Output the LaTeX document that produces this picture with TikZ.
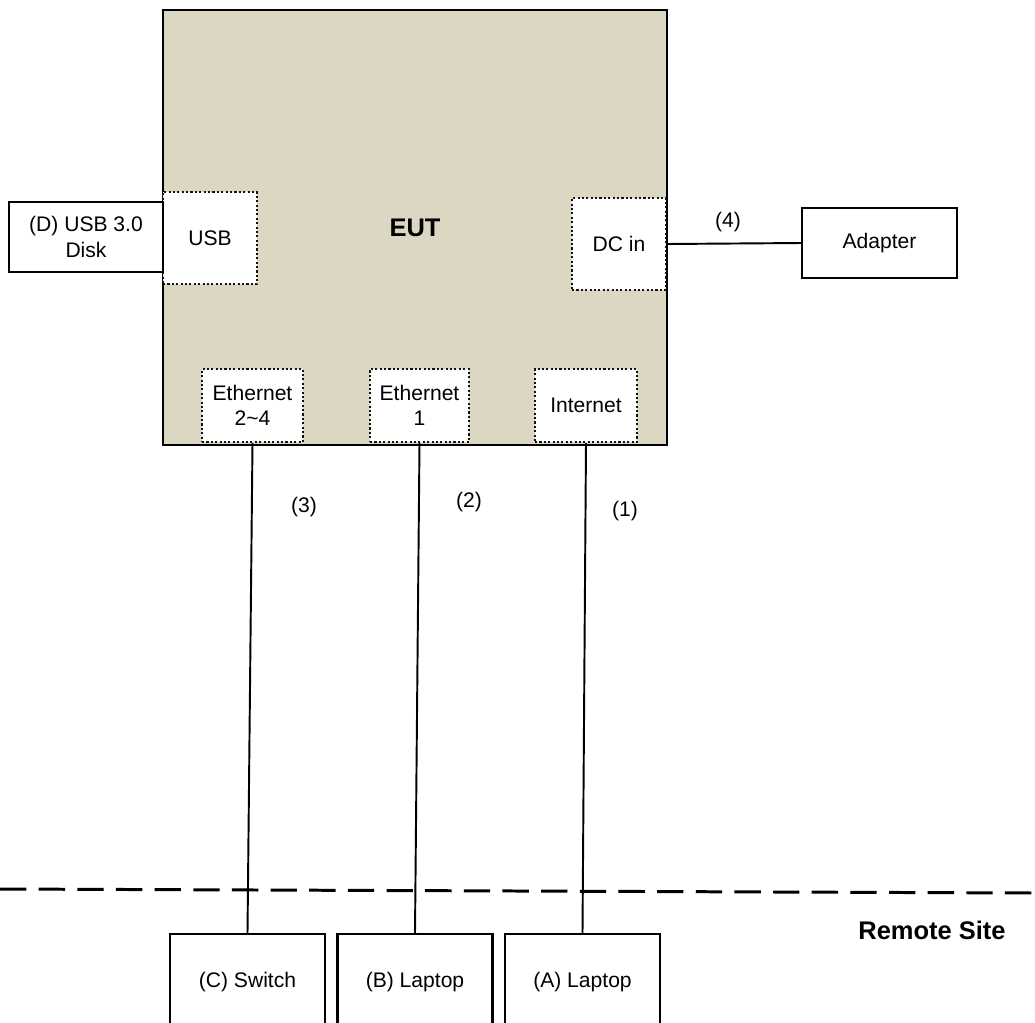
\documentclass[tikz,border=0pt]{standalone}
\usepackage{fontspec}
\setmainfont{Liberation Sans}
\usepackage{xcolor}
\usepackage{tikz}
\usetikzlibrary{positioning,calc}
\definecolor{euttan}{HTML}{DCD7C2}
\definecolor{portdot}{HTML}{111111}

\begin{document}
\begin{tikzpicture}[
    x=0.02cm,y=-0.02cm,
    eutbox/.style  = {rectangle,draw=black,line width=1.3pt,fill=euttan,
                      minimum width=10.08cm,minimum height=8.7cm,
                      font=\fontsize{14.5}{16}\selectfont\bfseries},
    port/.style    = {rectangle,draw=portdot,fill=white,line width=1.3pt,
                      dash pattern=on 1.2pt off 1.3pt,align=center,
                      font=\fontsize{12}{14.5}\selectfont,inner sep=1pt},
    device/.style  = {rectangle,draw=black,line width=1.2pt,fill=white,
                      align=center,font=\fontsize{12}{14.5}\selectfont,
                      minimum height=1.4cm,minimum width=3.1cm},
    remote/.style  = {device,minimum height=1.92cm},
    cable/.style   = {draw=black,line width=1.1pt},
    num/.style     = {font=\fontsize{12}{14}\selectfont},
  ]
  \clip (0,0) rectangle (1035,1022);

  % ── EUT and its ports ───────────────────────────────────────────────────
  \node[eutbox] (eut) at (415,227.5) {EUT};
  \node[port,minimum width=1.88cm,minimum height=1.84cm] (usb)  at (210,238) {USB};
  \node[port,minimum width=1.88cm,minimum height=1.84cm] (dcin) at (619,244) {DC in};
  \node[port,minimum width=2.02cm,minimum height=1.46cm] (eth24) at (252.5,405.5) {Ethernet\\2\textasciitilde 4};
  \node[port,minimum width=1.98cm,minimum height=1.46cm] (eth1)  at (419.5,405.5) {Ethernet\\1};
  \node[port,minimum width=2.04cm,minimum height=1.46cm] (inet)  at (586,405.5) {Internet};

  % ── Local devices ───────────────────────────────────────────────────────
  \node[device,minimum width=3.08cm] (disk) at (86,237) {(D) USB 3.0\\Disk};
  \node[device] (adapter) at (879.5,243) {Adapter};

  % ── Remote site ─────────────────────────────────────────────────────────
  \coordinate (sepL) at (0,889);
  \coordinate (sepR) at (1035,893);
  \draw[black,line width=1.7pt,dash pattern=on 15pt off 7pt] (sepL) -- (sepR);
  \node[font=\fontsize{14.5}{16}\selectfont\bfseries] (site) at (932,930) {Remote Site};
  \node[remote] (switch)  at (247.5,982) {(C) Switch};
  \node[remote] (laptopb) at (415,982)   {(B) Laptop};
  \node[remote] (laptopa) at (582.5,982) {(A) Laptop};

  % ── Cables ──────────────────────────────────────────────────────────────
  \draw[cable] (dcin.east) -- (adapter.west);
  \draw[cable] (eth24.south) -- (switch.north);
  \draw[cable] (eth1.south) -- (laptopb.north);
  \draw[cable] (inet.south) -- (laptopa.north);
  \node[num] (n4) at (728,222) {(4)};
  \node[num] (n3) at (304,507) {(3)};
  \node[num] (n2) at (469,502) {(2)};
  \node[num] (n1) at (625,511) {(1)};

\end{tikzpicture}
\end{document}
